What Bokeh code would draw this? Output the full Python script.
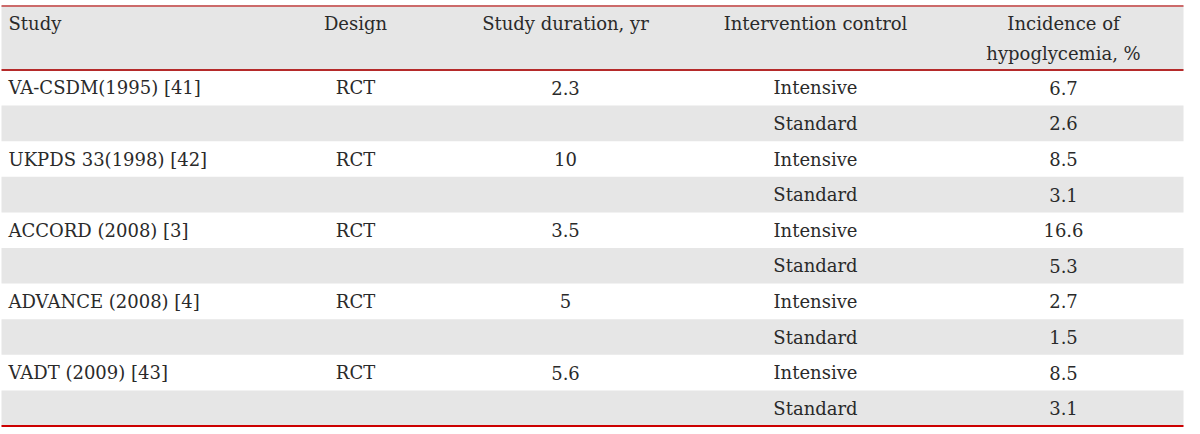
from bokeh.plotting import figure
from bokeh.models import Range1d, ColumnDataSource
from bokeh.core.properties import value
from bokeh.embed import file_html
from bokeh.resources import INLINE

# ---- data ----
headers = ["Study", "Design", "Study duration, yr", "Intervention control", "Incidence of\nhypoglycemia, %"]
studies = ["VA-CSDM(1995) [41]", "UKPDS 33(1998) [42]", "ACCORD (2008) [3]", "ADVANCE (2008) [4]", "VADT (2009) [43]"]
designs = ["RCT", "RCT", "RCT", "RCT", "RCT"]
durations = ["2.3", "10", "3.5", "5", "5.6"]
arms = ["Intensive", "Standard"]
incidence = [6.7, 2.6, 8.5, 3.1, 16.6, 5.3, 2.7, 1.5, 8.5, 3.1]

# ---- layout ----
W, H = 1186, 428
X0, X1 = 1, 1183
TOP, HDR, BOT = 5.5, 69.5, 425.5
row_h = (BOT - HDR) / 10.0
FONT = "DejaVu Serif"
FS = "18px"
TXT = "#2a2a2a"

p = figure(width=W, height=H, output_backend="svg", toolbar_location=None,
           x_range=Range1d(0, W), y_range=Range1d(H, 0), min_border=0,
           outline_line_color=None)
p.axis.visible = False
p.grid.visible = False
p.background_fill_color = "white"
p.border_fill_color = "white"

# background bands
nrows = len(incidence)
band_y = [(TOP + HDR) / 2] + [HDR + row_h * (i + 0.5) for i in range(nrows) if i % 2 == 1]
band_h = [HDR - TOP] + [row_h for i in range(nrows) if i % 2 == 1]
p.rect(x=[(X0 + X1) / 2] * len(band_y), y=band_y, width=[X1 - X0] * len(band_y), height=band_h,
       fill_color="#e6e6e6", line_color=None)

# rules
p.segment(x0=[X0], y0=[TOP], x1=[X1], y1=[TOP], line_color="#cc6a6a", line_width=2)
p.segment(x0=[X0], y0=[HDR], x1=[X1], y1=[HDR], line_color="#b52a2a", line_width=2)
p.segment(x0=[X0], y0=[BOT], x1=[X1], y1=[BOT], line_color="#cc0000", line_width=2)

col_x = [8, 355, 565, 815, 1063]
col_align = ["left", "center", "center", "center", "center"]

# headers
for hx, ha, h in zip(col_x, col_align, headers):
    lines = h.split("\n")
    p.text(x=[hx] * len(lines), y=[23 + 30 * k for k in range(len(lines))], text=lines,
           text_font=value(FONT), text_font_size=FS, text_color=TXT,
           text_align=ha, text_baseline="middle")

# body
xs, ys, ts, al = [], [], [], []
for i in range(nrows):
    yc = HDR + row_h * (i + 0.5)
    s = i // 2
    if i % 2 == 0:
        xs += [col_x[0], col_x[1], col_x[2]]
        ys += [yc] * 3
        ts += [studies[s], designs[s], durations[s]]
        al += ["left", "center", "center"]
    xs += [col_x[3], col_x[4]]
    ys += [yc] * 2
    ts += [arms[i % 2], "%.1f" % incidence[i]]
    al += ["center", "center"]

src = ColumnDataSource(dict(x=xs, y=ys, t=ts, a=al))
p.text(x="x", y="y", text="t", source=src, text_align="a",
       text_font=value(FONT), text_font_size=FS, text_color=TXT, text_baseline="middle")

open("out.html", "w").write(file_html(p, INLINE))
